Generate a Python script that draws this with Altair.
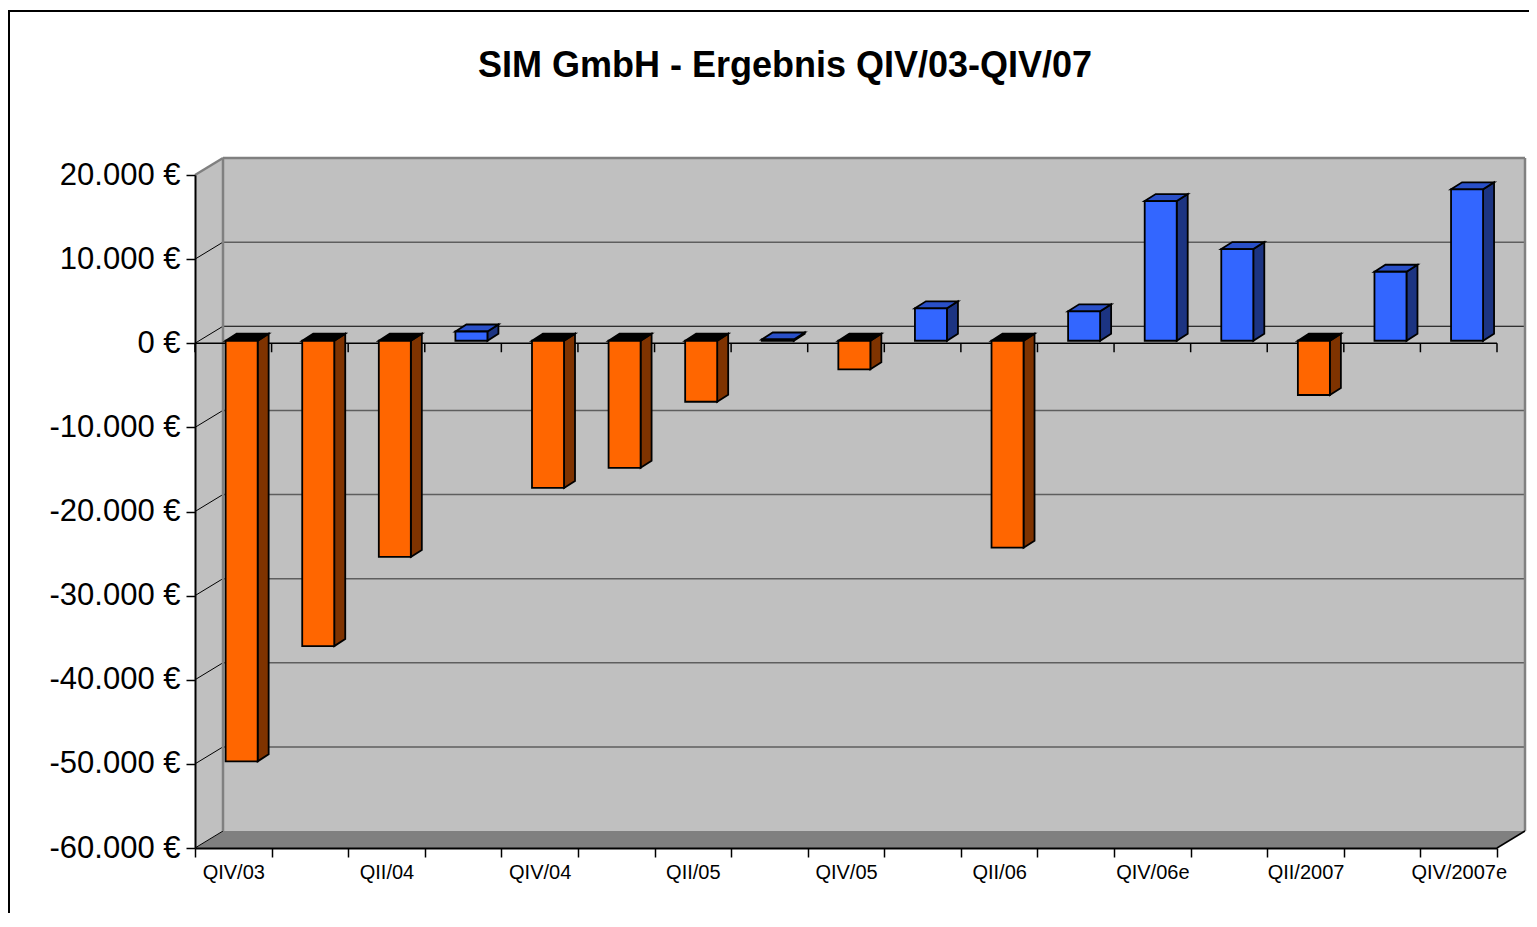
import json
import altair as alt
import pandas as pd

# ---------------- data ----------------
categories = ["QIV/03", "QI/04", "QII/04", "QIII/04", "QIV/04", "QI/05", "QII/05",
              "QIII/05", "QIV/05", "QI/06", "QII/06", "QIII/06", "QIV/06e",
              "QI/2007", "QII/2007", "QIII/2007", "QIV/2007e"]
values = [-50000, -36300, -25700, 1100, -17500, -15100, -7250, 150, -3400,
          3850, -24600, 3500, 16600, 10900, -6450, 8200, 18000]
y_ticks = [-60000, -50000, -40000, -30000, -20000, -10000, 0, 10000, 20000]
title_text = "SIM GmbH - Ergebnis QIV/03-QIV/07"

# ---------------- layout ----------------
W, H = 1302, 673
Y_MIN, Y_MAX = -60000, 20000
N = len(categories)
PX_X = W / N
PX_Y = H / (Y_MAX - Y_MIN)


def ux(px):
    return px / PX_X


def uy(px):
    return px / PX_Y


WDX, WDY = ux(28), uy(17)          # wall depth
BAR_L, BAR_R = 0.40, 0.818          # front face inside a category
BDX, BDY = ux(11), uy(7)            # bar depth
LIFT = -2.5                         # px, bar zero plane above front zero
FONT = "Liberation Sans"

xs = alt.Scale(domain=[0, N], nice=False, zero=False)
ys = alt.Scale(domain=[Y_MIN, Y_MAX], nice=False, zero=False)

cats_js = json.dumps(categories)
x_axis = alt.Axis(values=list(range(N + 1)), title=None, grid=False,
                  labelExpr=f"(datum.value % 2 == 0 && datum.value < {N}) ? {cats_js}[datum.value] : ''",
                  labelOffset=PX_X / 2, labelFlush=False, labelOverlap=False,
                  labelFont=FONT, labelFontSize=20, labelColor="black", labelPadding=5,
                  tickSize=9, tickWidth=1.5, tickColor="black",
                  domainColor="black", domainWidth=2, zindex=1)
y_axis = alt.Axis(values=y_ticks, title=None, grid=False,
                  labelExpr="(datum.value < 0 ? '-' : '') + replace(format(abs(datum.value), ',d'), ',', '.') + ' €'",
                  labelFlush=False, labelOverlap=False,
                  labelFont=FONT, labelFontSize=31, labelColor="black", labelPadding=6,
                  tickSize=9, tickWidth=1.5, tickColor="black",
                  domainColor="black", domainWidth=2, zindex=1)


def X(f):
    return alt.X(f, type="quantitative", scale=xs, axis=x_axis)


def Y(f):
    return alt.Y(f, type="quantitative", scale=ys, axis=y_axis)


# ---------------- walls ----------------
back = pd.DataFrame({"x": [WDX], "x2": [N + WDX], "y": [Y_MIN + WDY], "y2": [Y_MAX + WDY]})
back_wall = alt.Chart(back).mark_rect(fill="#C0C0C0").encode(
    x=X("x"), x2="x2", y=Y("y"), y2="y2")

left = pd.DataFrame({"x": [0, WDX], "y": [Y_MAX, Y_MAX + WDY], "y2": [Y_MIN, Y_MIN + WDY]})
left_wall = alt.Chart(left).mark_area(fill="#C0C0C0", orient="vertical").encode(
    x=X("x"), y=Y("y"), y2="y2")

floor = pd.DataFrame({"x": [0, WDX, N, N + WDX],
                      "y": [Y_MIN, Y_MIN + WDY, Y_MIN + WDY, Y_MIN + WDY],
                      "y2": [Y_MIN, Y_MIN, Y_MIN, Y_MIN + WDY]})
floor_l = alt.Chart(floor).mark_area(fill="#808080", orient="vertical").encode(
    x=X("x"), y=Y("y"), y2="y2")

segs = []
for v in y_ticks[1:-1]:
    segs.append((WDX, v + WDY, N + WDX, v + WDY, "black" if v == 0 else "#5E5E5E", 1 if v == 0 else 1.5))
for v in y_ticks[:-1]:
    segs.append((0, v, WDX, v + WDY, "black", 1))
segs += [
    (WDX, Y_MAX + WDY, N + WDX, Y_MAX + WDY, "#808080", 2.5),
    (N + WDX, Y_MAX + WDY, N + WDX, Y_MIN + WDY, "#808080", 2.5),
    (WDX, Y_MAX + WDY, WDX, Y_MIN + WDY, "#808080", 2.5),
    (0, Y_MAX, WDX, Y_MAX + WDY, "#808080", 2.5),
    (N, Y_MIN, N + WDX, Y_MIN + WDY, "black", 1.5),
    (0, 0, N, 0, "black", 1.5),
]
for i in range(N + 1):
    segs.append((i, 0, i, -uy(9), "black", 1.5))
seg_df = pd.DataFrame(segs, columns=["x", "y", "x2", "y2", "c", "w"])
lines = alt.Chart(seg_df).mark_rule().encode(
    x=X("x"), x2="x2", y=Y("y"), y2="y2",
    color=alt.Color("c:N", scale=None), strokeWidth=alt.StrokeWidth("w:Q", scale=None))

# ---------------- bars ----------------
FRONT = {True: "#3366FF", False: "#FF6600"}
SIDE = {True: "#1C3482", False: "#7F3300"}
TOP = {True: "#2A50C8", False: "#000000"}

front_rows, side_rows, top_rows = [], [], []
for i, (c, v) in enumerate(zip(categories, values)):
    pos = v > 0
    x0, x1 = i + BAR_L, i + BAR_R
    front_rows.append({"cat": c, "x0": x0, "x1": x1, "zero": 0, "v": v, "col": FRONT[pos]})
    side_rows += [{"cat": c, "x": x1, "y": v, "y2": 0, "col": SIDE[pos]},
                  {"cat": c, "x": x1 + BDX, "y": v + BDY, "y2": BDY, "col": SIDE[pos]}]
    t = max(v, 0)
    top_rows += [{"cat": c, "x": x0, "y": t, "y2": t, "col": TOP[pos]},
                 {"cat": c, "x": x0 + BDX, "y": t + BDY, "y2": t, "col": TOP[pos]},
                 {"cat": c, "x": x1, "y": t + BDY, "y2": t, "col": TOP[pos]},
                 {"cat": c, "x": x1 + BDX, "y": t + BDY, "y2": t + BDY, "col": TOP[pos]}]

bar_style = dict(stroke="black", strokeWidth=1.8, strokeJoin="miter", yOffset=LIFT, y2Offset=LIFT)
side = alt.Chart(pd.DataFrame(side_rows)).mark_area(orient="vertical", **bar_style).encode(
    x=X("x"), y=Y("y"), y2="y2", detail="cat:N", color=alt.Color("col:N", scale=None))
top = alt.Chart(pd.DataFrame(top_rows)).mark_area(orient="vertical", **bar_style).encode(
    x=X("x"), y=Y("y"), y2="y2", detail="cat:N", color=alt.Color("col:N", scale=None))
front = alt.Chart(pd.DataFrame(front_rows)).mark_rect(**bar_style).encode(
    x=X("x0"), x2="x1", y=Y("zero"), y2="v", color=alt.Color("col:N", scale=None))

# ---------------- title & border ----------------
one = pd.DataFrame({"t": [title_text]})
title = alt.Chart(one).mark_text(font=FONT, fontSize=36, fontWeight="bold", color="black",
                                 align="center", baseline="alphabetic").encode(
    text="t:N", x=alt.value(590), y=alt.value(-98))
border = alt.Chart(one).mark_rect(fill=None, stroke="black", strokeWidth=2).encode(
    x=alt.value(-186), x2=alt.value(1500), y=alt.value(-164), y2=alt.value(850))

chart = alt.layer(back_wall, floor_l, left_wall, lines, side, top, front, title, border).properties(
    width=W, height=H,
    autosize=alt.AutoSizeParams(type="none"),
    padding={"left": 187, "top": 167, "right": 32, "bottom": 65},
    background="white",
).configure_view(stroke=None)

chart.save("out.html", embed_options={"renderer": "svg", "actions": False})
